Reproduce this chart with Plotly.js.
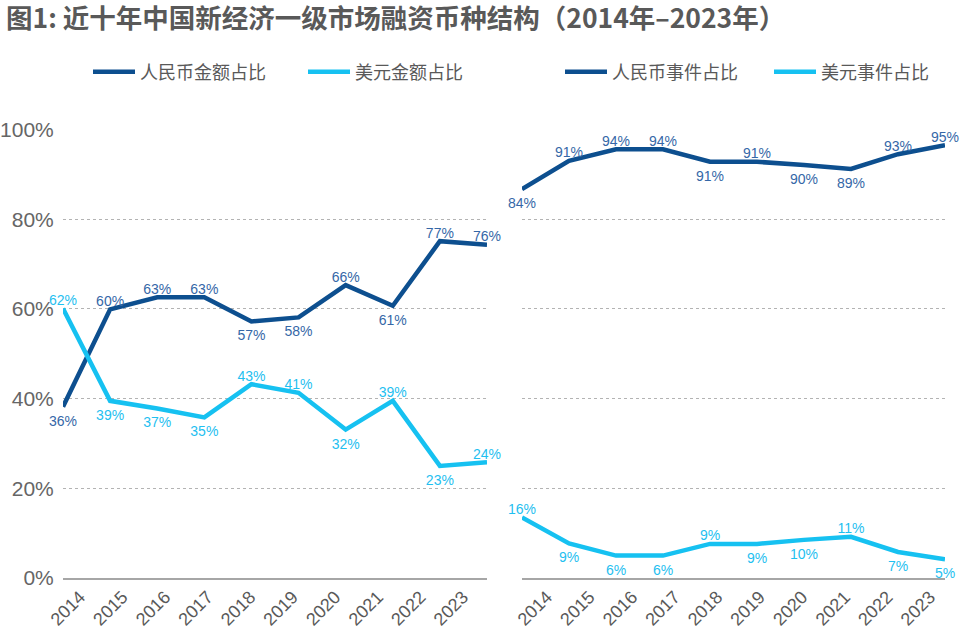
<!DOCTYPE html>
<html>
<head>
<meta charset="utf-8">
<script src="https://cdn.plot.ly/plotly-3.0.1.min.js"></script>
<style>
html,body{margin:0;padding:0;background:#fff;}
#chart{width:960px;height:637px;}
</style>
</head>
<body>
<div id="chart"></div>
<script>
// ---- data ----
const years = [2014, 2015, 2016, 2017, 2018, 2019, 2020, 2021, 2022, 2023];
const yearLabels = ["2014", "2015", "2016", "2017", "2018", "2019", "2020", "2021", "2022", "2023"];

// 融资金额占比 (%)
const rmbAmount = [38.2, 59.9, 62.6, 62.6, 57.2, 58.1, 65.3, 60.7, 75.1, 74.3];
const usdAmount = [60.1, 39.5, 37.8, 35.8, 43.2, 41.3, 33.1, 39.5, 25.0, 25.8];
const rmbAmountLabels = ["36%", "60%", "63%", "63%", "57%", "58%", "66%", "61%", "77%", "76%"];
const usdAmountLabels = ["62%", "39%", "37%", "35%", "43%", "41%", "32%", "39%", "23%", "24%"];

// 融资事件占比 (%)
const rmbEvents = [86.7, 93.0, 95.6, 95.6, 92.8, 92.8, 92.1, 91.2, 94.5, 96.5];
const usdEvents = [13.5, 7.7, 5.0, 5.0, 7.6, 7.6, 8.5, 9.2, 5.8, 4.2];
const rmbEventLabels = ["84%", "91%", "94%", "94%", "91%", "91%", "90%", "89%", "93%", "95%"];
const usdEventLabels = ["16%", "9%", "6%", "6%", "9%", "9%", "10%", "11%", "7%", "5%"];

const yTicks = [0, 20, 40, 60, 80, 100];
const yTickLabels = ["0%", "20%", "40%", "60%", "80%", "100%"];

// ---- styles ----
const T = "top center", B = "bottom center";
const posRmbAmount = [B, T, T, T, B, B, T, B, T, T];
const posUsdAmount = [T, B, B, B, T, T, B, T, B, T];
const posRmbEvents = [B, T, T, T, B, T, B, B, T, T];
const posUsdEvents = [T, B, B, B, T, B, B, T, B, B];

const DARK = "#0d4f8f", LIGHT = "#16c1f1";
const DARK_TXT = "#3567a7", LIGHT_TXT = "#1fc0f0";
const labelFont = (c) => ({family: "Liberation Sans, Arial, sans-serif", size: 14, color: c});

function series(name, y, text, pos, color, txtColor, xa, ya, legend) {
  return {
    type: "scatter", mode: "lines+markers+text", name: name,
    x: years, y: y, text: text, textposition: pos,
    textfont: labelFont(txtColor),
    line: {color: color, width: 4.5},
    // invisible spacer markers: give the below-line labels a little more room
    marker: {size: pos.map(p => (p === B ? 12 : 0)), color: "rgba(0,0,0,0)", line: {width: 0}},
    xaxis: xa, yaxis: ya, legend: legend,
    cliponaxis: false, hoverinfo: "x+y"
  };
}

const data = [
  series("人民币金额占比", rmbAmount, rmbAmountLabels, posRmbAmount, DARK, DARK_TXT, "x", "y", "legend"),
  series("美元金额占比", usdAmount, usdAmountLabels, posUsdAmount, LIGHT, LIGHT_TXT, "x", "y", "legend2"),
  series("人民币事件占比", rmbEvents, rmbEventLabels, posRmbEvents, DARK, DARK_TXT, "x2", "y2", "legend3"),
  series("美元事件占比", usdEvents, usdEventLabels, posUsdEvents, LIGHT, LIGHT_TXT, "x2", "y2", "legend4"),
  // carriers for the tick-label axes
  {type: "scatter", mode: "none", x: years, y: years.map(() => null), xaxis: "x3", yaxis: "y", showlegend: false, hoverinfo: "skip"},
  {type: "scatter", mode: "none", x: years, y: years.map(() => null), xaxis: "x4", yaxis: "y2", showlegend: false, hoverinfo: "skip"}
];

const W = 960, H = 637;
const yDom = [(H - 578) / H, (H - 129.5) / H];
const leftDom = [63 / W, 487 / W];
const rightDom = [522 / W, 945 / W];

const gridY = {
  range: [0, 100], domain: yDom, tickvals: yTicks, ticktext: yTickLabels,
  showgrid: true, gridcolor: "#b3b3b3", griddash: "dot", gridwidth: 1,
  zeroline: false, showline: false, fixedrange: true
};
const baseX = {
  range: [2014, 2023], showgrid: false, zeroline: false,
  showline: true, linecolor: "#a6a6a6", linewidth: 2,
  showticklabels: false, ticks: "", fixedrange: true
};
const labelX = {
  showgrid: false, zeroline: false, showline: false, ticks: "",
  tickvals: years, ticktext: yearLabels, tickangle: -45, ticklabelstandoff: 4,
  tickfont: {family: "Liberation Sans, Arial, sans-serif", size: 18, color: "#595959"},
  fixedrange: true
};

function leg(px) {
  return {
    orientation: "h", x: px / W, xanchor: "left", y: 1 - 72 / H, yanchor: "middle",
    font: {family: "Noto Sans CJK SC, sans-serif", size: 18, color: "#595959"},
    itemwidth: 42, bgcolor: "rgba(0,0,0,0)"
  };
}

const layout = {
  width: W, height: H,
  margin: {l: 0, r: 0, t: 0, b: 0},
  paper_bgcolor: "#ffffff", plot_bgcolor: "#ffffff",
  showlegend: true,
  title: {
    text: "<b>图1: 近十年中国新经济一级市场融资币种结构（2014年–2023年）</b>",
    font: {family: "Noto Sans CJK SC, sans-serif", size: 26.5, color: "#595959"},
    x: 6 / W, xanchor: "left", xref: "paper",
    y: 1 - 19 / H, yanchor: "middle", yref: "container"
  },
  xaxis: Object.assign({}, baseX, {domain: leftDom, anchor: "y"}),
  xaxis2: Object.assign({}, baseX, {domain: rightDom, anchor: "y2"}),
  xaxis3: Object.assign({}, labelX, {overlaying: "x", anchor: "y", range: [2013.601, 2023.564]}),
  xaxis4: Object.assign({}, labelX, {overlaying: "x2", anchor: "y2", range: [2013.413, 2023.352]}),
  yaxis: Object.assign({}, gridY, {anchor: "x", showticklabels: true,
    tickfont: {family: "Liberation Sans, Arial, sans-serif", size: 21, color: "#666666"},
    ticks: "outside", ticklen: 4, tickcolor: "rgba(0,0,0,0)"}),
  yaxis2: Object.assign({}, gridY, {anchor: "x2", showticklabels: false}),
  legend: leg(88),
  legend2: leg(303),
  legend3: leg(560),
  legend4: leg(769)
};

Plotly.newPlot("chart", data, layout, {displayModeBar: false, staticPlot: true});
</script>
</body>
</html>
